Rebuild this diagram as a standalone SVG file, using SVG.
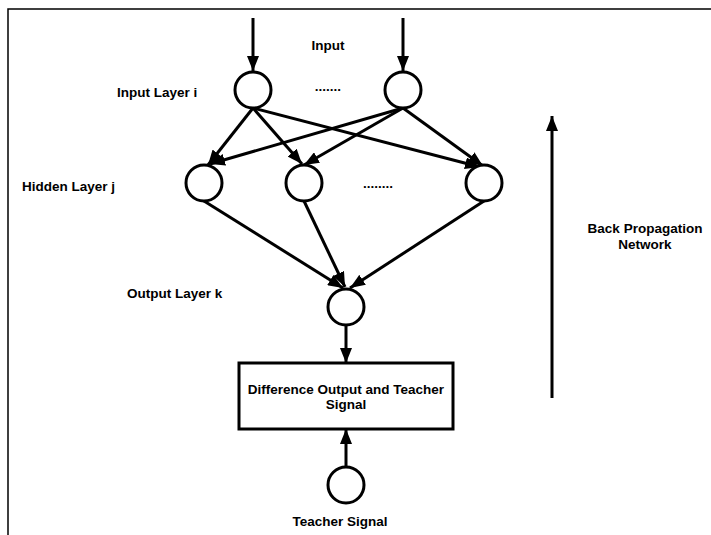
<svg xmlns="http://www.w3.org/2000/svg" width="711" height="535" viewBox="0 0 711 535">
<style>
.lbl{font-family:"Liberation Sans",Arial,sans-serif;font-weight:bold;font-size:13.5px;fill:#000}
.node{fill:#fff;stroke:#000;stroke-width:3}
.edge{stroke:#000;stroke-width:3;fill:none;marker-end:url(#ah)}
.frame{stroke:#000;stroke-width:1.5;fill:none}
</style>
<defs>
<marker id="ah" markerUnits="userSpaceOnUse" markerWidth="16" markerHeight="12" refX="15" refY="6" orient="auto">
<path d="M0,0 L15,6 L0,12 z" fill="#000"/>
</marker>
</defs>
<rect width="711" height="535" fill="#fff"/>
<path class="frame" d="M8,535 L8,9 L711,9"/>

<g id="connectors">
<line class="edge" x1="253" y1="18" x2="253" y2="71"/>
<line class="edge" x1="403" y1="18" x2="403" y2="71"/>
<line class="edge" x1="253" y1="108" x2="208" y2="165"/>
<line class="edge" x1="253" y1="108" x2="302" y2="164"/>
<line class="edge" x1="253" y1="108" x2="480" y2="167"/>
<line class="edge" x1="403" y1="108" x2="210" y2="164"/>
<line class="edge" x1="403" y1="108" x2="304" y2="165"/>
<line class="edge" x1="403" y1="108" x2="483" y2="166"/>
<line class="edge" x1="204" y1="201" x2="343" y2="288"/>
<line class="edge" x1="304" y1="201" x2="345" y2="287"/>
<line class="edge" x1="484" y1="201" x2="350" y2="288"/>
<line class="edge" x1="346" y1="325" x2="346" y2="363"/>
<line class="edge" x1="346" y1="467" x2="346" y2="429"/>
<line class="edge" x1="552" y1="398" x2="552" y2="116"/>
</g>

<g id="input1"><circle class="node" cx="253" cy="90" r="18"/></g>
<g id="input2"><circle class="node" cx="403" cy="90" r="18"/></g>
<g id="hidden1"><circle class="node" cx="204" cy="183" r="18"/></g>
<g id="hidden2"><circle class="node" cx="304" cy="183" r="18"/></g>
<g id="hidden3"><circle class="node" cx="484" cy="183" r="18"/></g>
<g id="output"><circle class="node" cx="346" cy="307" r="18"/></g>
<g id="difference">
<rect x="239" y="363" width="214" height="66" fill="#fff" stroke="#000" stroke-width="3"/>
<text class="lbl" x="346" y="394" text-anchor="middle">Difference Output and Teacher</text>
<text class="lbl" x="346" y="409" text-anchor="middle">Signal</text>
</g>
<g id="teacher"><circle class="node" cx="346" cy="485" r="18"/></g>

<g id="labels">
<text class="lbl" x="328" y="50" text-anchor="middle">Input</text>
<text class="lbl" x="117" y="97">Input Layer i</text>
<text class="lbl" x="328" y="91" text-anchor="middle">.......</text>
<text class="lbl" x="22" y="191">Hidden Layer j</text>
<text class="lbl" x="378" y="188" text-anchor="middle">........</text>
<text class="lbl" x="127" y="298">Output Layer k</text>
<text class="lbl" x="645" y="233" text-anchor="middle">Back Propagation</text>
<text class="lbl" x="645" y="249" text-anchor="middle">Network</text>
<text class="lbl" x="340" y="526" text-anchor="middle">Teacher Signal</text>
</g>
</svg>
